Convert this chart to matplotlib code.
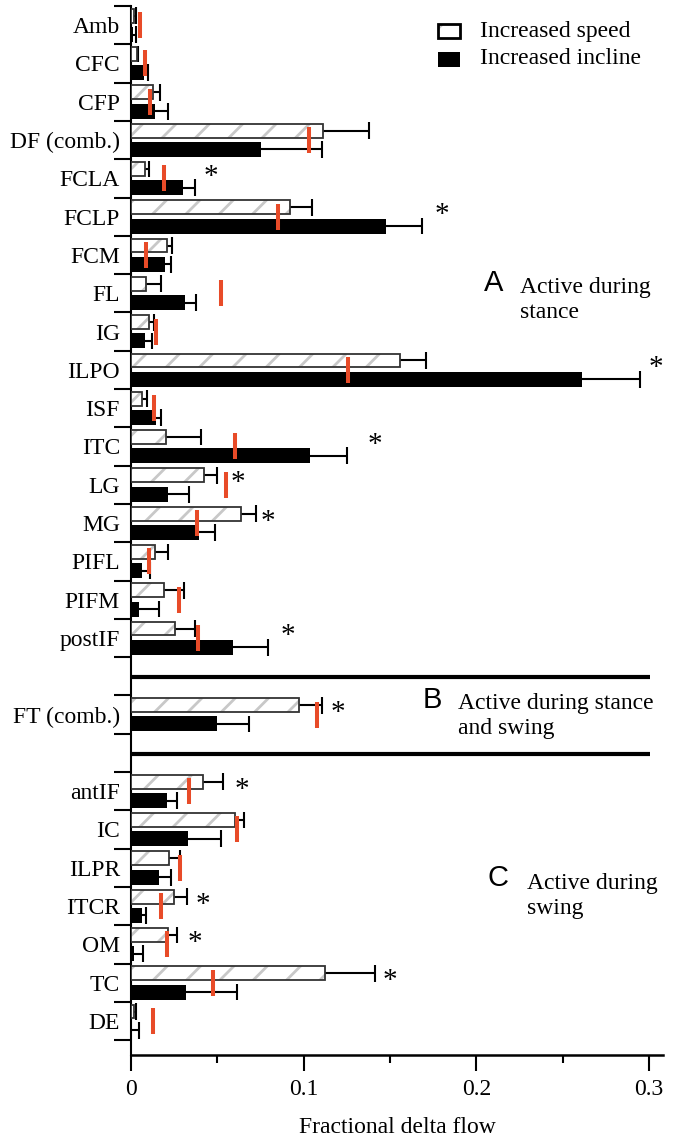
import matplotlib
matplotlib.use("Agg")
import matplotlib.pyplot as plt
from matplotlib.patches import Rectangle

# ---------------- data ----------------
cats_A = ["Amb", "CFC", "CFP", "DF (comb.)", "FCLA", "FCLP", "FCM", "FL", "IG",
          "ILPO", "ISF", "ITC", "LG", "MG", "PIFL", "PIFM", "postIF"]
speed_A = [0.002, 0.0037, 0.013, 0.111, 0.008, 0.092, 0.021, 0.0087, 0.0104,
           0.156, 0.0062, 0.020, 0.042, 0.0636, 0.0139, 0.0191, 0.0256]
speed_err_A = [0.001, 0.0006, 0.0037, 0.027, 0.0024, 0.013, 0.0027, 0.0085, 0.003,
               0.015, 0.003, 0.0204, 0.0079, 0.0085, 0.0077, 0.0117, 0.0117]
incline_A = [0.001, 0.0075, 0.014, 0.0753, 0.0303, 0.1477, 0.0199, 0.0313, 0.0082,
             0.261, 0.0144, 0.1037, 0.0216, 0.0395, 0.0065, 0.0047, 0.0592]
incline_err_A = [0.002, 0.0025, 0.0076, 0.035, 0.0067, 0.0208, 0.003, 0.0065, 0.0038,
                 0.0336, 0.0028, 0.0213, 0.012, 0.0092, 0.0047, 0.0117, 0.0203]
red_A = [0.005, 0.008, 0.011, 0.103, 0.019, 0.085, 0.0085, 0.052, 0.0142,
         0.1258, 0.0132, 0.0604, 0.0552, 0.038, 0.0107, 0.0276, 0.0385]
star_A = [None, None, None, None, 0.046, 0.180, None, None, None,
          0.304, None, 0.141, 0.062, 0.079, None, None, 0.091]

cats_B = ["FT (comb.)"]
speed_B = [0.0972]
speed_err_B = [0.0134]
incline_B = [0.050]
incline_err_B = [0.0181]
red_B = [0.1079]
star_B = [0.120]

cats_C = ["antIF", "IC", "ILPR", "ITCR", "OM", "TC", "DE"]
speed_C = [0.0415, 0.0602, 0.0219, 0.0249, 0.0214, 0.1124, 0.002]
speed_err_C = [0.0115, 0.0054, 0.0067, 0.0077, 0.0052, 0.0286, 0.001]
incline_C = [0.0211, 0.0331, 0.0164, 0.0065, 0.002, 0.0321, 0.0005]
incline_err_C = [0.0055, 0.0191, 0.007, 0.0022, 0.0052, 0.0293, 0.0041]
red_C = [0.0333, 0.0614, 0.0281, 0.0176, 0.0211, 0.0477, 0.0126]
star_C = [0.064, None, None, 0.0415, 0.037, 0.150, None]

legend_labels = ["Increased speed", "Increased incline"]
section_letters = ["A", "B", "C"]
section_texts = ["Active during\nstance", "Active during stance\nand swing", "Active during\nswing"]
xticks_major = [0, 0.1, 0.2, 0.3]
xtick_labels = ["0", "0.1", "0.2", "0.3"]
xticks_minor = [0.05, 0.15, 0.25]
x_label = "Fractional delta flow"

# ---------------- style ----------------
SERIF = ["Liberation Serif", "DejaVu Serif"]
SANS = ["Liberation Sans", "DejaVu Sans"]
plt.rcParams["font.family"] = SERIF
plt.rcParams["hatch.linewidth"] = 2.0
FS = 17
RED = "#E84B28"
HATCH_C = "#c8c8c8"
EDGE_C = "#333333"

W, H = 674, 1137
fig = plt.figure(figsize=(W / 100, H / 100), dpi=100)
ax_left, ax_right, ax_top, ax_bot = 131, 663, 6, 1055
ax = fig.add_axes([ax_left / W, 1 - ax_bot / H, (ax_right - ax_left) / W, (ax_bot - ax_top) / H])
row_px = 38.3
ax.set_xlim(0, 0.308)
ax.set_ylim((ax_bot - ax_top) / row_px, 0)

# slot layout: A rows 0..16, B row 18, C rows 20..26
slots_A = list(range(0, 17))
slots_B = [18]
slots_C = list(range(20, 27))

cats = cats_A + cats_B + cats_C
speed = speed_A + speed_B + speed_C
speed_err = speed_err_A + speed_err_B + speed_err_C
incline = incline_A + incline_B + incline_C
incline_err = incline_err_A + incline_err_B + incline_err_C
red = red_A + red_B + red_C
stars = star_A + star_B + star_C
slots = slots_A + slots_B + slots_C
centers = [s + 0.5 for s in slots]

off = 0.245
hs, hi = 0.36, 0.39
ys = [c - off for c in centers]
yi = [c + off for c in centers]

# error bars (upper side only)
cap = 0.22
for y, v, e in zip(ys, speed, speed_err):
    ax.hlines(y, v, v + e, color="black", lw=1.5, zorder=2)
    ax.vlines(v + e, y - cap, y + cap, color="black", lw=1.5, zorder=2)
for y, v, e in zip(yi, incline, incline_err):
    ax.hlines(y, v, v + e, color="black", lw=1.5, zorder=2)
    ax.vlines(v + e, y - cap, y + cap, color="black", lw=1.5, zorder=2)

# speed bars: hatched fill + dark outline
ax.barh(ys, speed, height=hs, color="white", edgecolor=HATCH_C, hatch="/", linewidth=0, zorder=3)
ax.barh(ys, speed, height=hs, fill=False, edgecolor=EDGE_C, linewidth=1.3, zorder=4)
# incline bars
ax.barh(yi, incline, height=hi, color="black", edgecolor="black", linewidth=0, zorder=3)

# red markers
ax.vlines(red, [c - 0.34 for c in centers], [c + 0.34 for c in centers], color=RED, lw=2.9, zorder=6)

# asterisks
for c, sx in zip(centers, stars):
    if sx is not None:
        ax.text(sx, c - 0.04, "*", fontsize=21, ha="center", va="center", zorder=7)

# section separators
for yline in (17.52, 19.53):
    ax.hlines(yline, 0, 0.3005, color="black", lw=3.0, zorder=5)

# axes styling
for sp in ("top", "right"):
    ax.spines[sp].set_visible(False)
ax.spines["left"].set_linewidth(1.5)
ax.spines["bottom"].set_linewidth(1.8)

ytick_major = list(range(0, 18)) + [18, 19] + list(range(20, 28))
ax.set_yticks(ytick_major)
ax.set_yticklabels([])
ax.set_yticks(centers, minor=True)
ax.set_yticklabels(cats, minor=True, fontsize=FS)
ax.tick_params(axis="y", which="major", length=12, width=1.5, direction="out")
ax.tick_params(axis="y", which="minor", length=0, pad=8)

ax.set_xticks(xticks_major)
ax.set_xticklabels(xtick_labels, fontsize=FS)
ax.set_xticks(xticks_minor, minor=True)
ax.tick_params(axis="x", which="major", length=11.5, width=1.5, direction="out", pad=6)
ax.tick_params(axis="x", which="minor", length=6, width=1.5, direction="out")
ax.set_xlabel(x_label, fontsize=FS, labelpad=12)

# section annotations (positions in data units)
def px2x(px):
    return (px - ax_left) / 1727.0

def px2y(py):
    return (py - ax_top) / row_px

sec_letter_pos = [(484, 283), (423, 700), (487, 878)]
sec_text_pos = [(520, 300), (458, 716), (527, 896)]
for (lx, ly), (tx, ty), L, T in zip(sec_letter_pos, sec_text_pos, section_letters, section_texts):
    ax.text(px2x(lx), px2y(ly), L, family=SANS, fontsize=21, ha="left", va="center")
    ax.text(px2x(tx), px2y(ty), T, fontsize=FS, ha="left", va="center", linespacing=1.22)

# legend (manual)
leg_boxes = [(438, 24, 22, 14), (438, 52, 22, 15)]
leg_text_y = [31, 59]
r1 = Rectangle((leg_boxes[0][0] / W, 1 - (leg_boxes[0][1] + leg_boxes[0][3]) / H),
               leg_boxes[0][2] / W, leg_boxes[0][3] / H, transform=fig.transFigure,
               facecolor="white", edgecolor=HATCH_C, hatch="/", linewidth=0)
r1b = Rectangle((leg_boxes[0][0] / W, 1 - (leg_boxes[0][1] + leg_boxes[0][3]) / H),
                leg_boxes[0][2] / W, leg_boxes[0][3] / H, transform=fig.transFigure,
                fill=False, edgecolor="black", linewidth=2.0)
r2 = Rectangle((leg_boxes[1][0] / W, 1 - (leg_boxes[1][1] + leg_boxes[1][3]) / H),
               leg_boxes[1][2] / W, leg_boxes[1][3] / H, transform=fig.transFigure,
               facecolor="black", edgecolor="black", linewidth=0)
for p in (r1, r1b, r2):
    fig.add_artist(p)
for lab, ty in zip(legend_labels, leg_text_y):
    fig.text(480 / W, 1 - ty / H, lab, fontsize=FS, ha="left", va="center")

fig.savefig("out.png", dpi=100)
